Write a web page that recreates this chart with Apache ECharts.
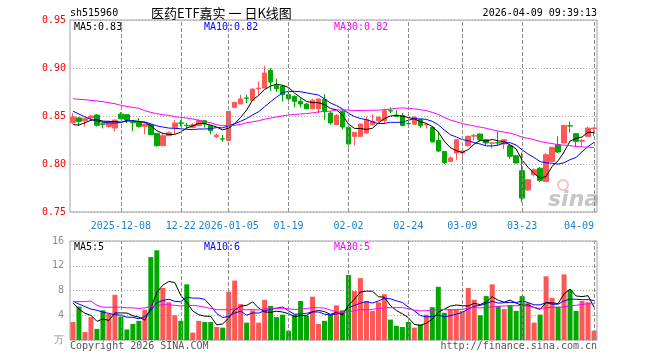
<!DOCTYPE html>
<html><head><meta charset="utf-8">
<script src="https://cdn.jsdelivr.net/npm/echarts@6/dist/echarts.min.js"></script>
<style>html,body{margin:0;padding:0;background:#fff}#c{width:660px;height:360px}</style>
</head><body><div id="c"></div>
<script>
// ---- data ----
const dates = [
'2025-11-26','2025-11-27','2025-11-28',
'2025-12-01','2025-12-02','2025-12-03','2025-12-04','2025-12-05',
'2025-12-08','2025-12-09','2025-12-10','2025-12-11','2025-12-12',
'2025-12-15','2025-12-16','2025-12-17','2025-12-18','2025-12-19',
'2025-12-22','2025-12-23','2025-12-24','2025-12-25','2025-12-26',
'2025-12-29','2025-12-30','2025-12-31',
'2026-01-05','2026-01-06','2026-01-07','2026-01-08','2026-01-09',
'2026-01-12','2026-01-13','2026-01-14','2026-01-15','2026-01-16',
'2026-01-19','2026-01-20','2026-01-21','2026-01-22','2026-01-23',
'2026-01-26','2026-01-27','2026-01-28','2026-01-29','2026-01-30',
'2026-02-02','2026-02-03','2026-02-04','2026-02-05','2026-02-06',
'2026-02-09','2026-02-10','2026-02-11','2026-02-12','2026-02-13',
'2026-02-24','2026-02-25','2026-02-26','2026-02-27',
'2026-03-02','2026-03-03','2026-03-04','2026-03-05','2026-03-06',
'2026-03-09','2026-03-10','2026-03-11','2026-03-12','2026-03-13',
'2026-03-16','2026-03-17','2026-03-18','2026-03-19','2026-03-20',
'2026-03-23','2026-03-24','2026-03-25','2026-03-26','2026-03-27',
'2026-03-30','2026-03-31','2026-04-01','2026-04-02','2026-04-03',
'2026-04-07','2026-04-08','2026-04-09'];

const tickDates  = ['2025-12-08','2025-12-22','2026-01-05','2026-01-19','2026-02-02','2026-02-24','2026-03-09','2026-03-23','2026-04-09'];
const tickLabels = ['2025-12-08','12-22','2026-01-05','01-19','02-02','02-24','03-09','03-23','04-09'];

const opens = [.843,.848,.8451,.848,.851,.8418,.839,.8375,.852,.8513,
.8438,.8432,.8392,.8409,.8319,.8191,.8295,.8382,.8428,.8403,
.8382,.8399,.8451,.8399,.8284,.8262,.8246,.859,.8625,.8688,
.8663,.8784,.8791,.8975,.8816,.8809,.8722,.8705,.8653,.8625,
.8576,.8576,.867,.8531,.8409,.855,.8382,.8288,.8288,.8323,
.8409,.8451,.8451,.8556,.851,.8505,.8422,.8415,.8462,.8408,
.838,.8245,.813,.8027,.8115,.8115,.8191,.829,.8312,.8253,
.8217,.8222,.8208,.8191,.8086,.793,.773,.7888,.7955,.7819,
.8027,.8201,.8219,.8399,.8316,.8238,.8288,.837];
const closes = [.849,.8444,.8472,.850,.8403,.8414,.8433,.8458,.8472,.8458,
.843,.8392,.8416,.8305,.8191,.8295,.8326,.8427,.8425,.840,
.8409,.8451,.8417,.8347,.830,.826,.8548,.8642,.8677,.8685,
.8781,.879,.8948,.8854,.8784,.8722,.868,.8653,.8625,.8576,
.8663,.8677,.8548,.8427,.8507,.8385,.8208,.833,.8416,.8462,
.8444,.8486,.8555,.8552,.8496,.84,.8418,.849,.8398,.8412,
.823,.8135,.8015,.8063,.8253,.8135,.8288,.8298,.8253,.8219,
.822,.8218,.8253,.808,.801,.7645,.7836,.794,.7829,.8097,
.8173,.8125,.8402,.8396,.8236,.8245,.8375,.8375];
const lows = [.842,.840,.839,.845,.839,.837,.838,.834,.8465,.8425,
.834,.838,.831,.830,.818,.819,.8295,.831,.839,.837,
.837,.8395,.838,.831,.827,.823,.8236,.859,.8625,.8635,
.866,.872,.8791,.876,.875,.865,.865,.859,.859,.857,
.8576,.853,.846,.841,.8405,.836,.8173,.8194,.8288,.832,
.840,.8435,.842,.853,.849,.8395,.8395,.841,.8375,.837,
.8225,.8125,.800,.802,.8045,.804,.818,.8246,.8235,.819,
.816,.819,.8156,.805,.8005,.760,.772,.787,.781,.781,
.8025,.8115,.8215,.833,.8184,.818,.8288,.829];
const highs = [.853,.849,.848,.851,.852,.844,.845,.846,.854,.852,
.8445,.848,.842,.841,.832,.832,.834,.846,.846,.843,
.8425,.847,.846,.840,.832,.8305,.855,.8645,.872,.872,
.8785,.886,.9024,.900,.889,.8825,.875,.8715,.8687,.8635,
.868,.868,.873,.855,.852,.856,.840,.833,.842,.8496,
.8514,.8495,.8576,.859,.856,.853,.8445,.8495,.847,.8425,
.8395,.834,.8135,.808,.8255,.817,.8295,.8316,.832,.826,
.823,.834,.8255,.820,.8095,.812,.7845,.7955,.797,.8114,
.8175,.8288,.841,.8444,.832,.8262,.839,.8375];
// volume, in 万 (10k)
const volumes = [2.9,5.4,1.3,3.7,1.8,4.8,4.2,7.3,3.8,1.7,
2.6,3.1,4.9,13.4,14.5,8.4,6.1,4.0,3.1,9.0,
1.2,3.1,2.9,2.9,2.1,2.0,7.8,9.6,5.8,2.8,
4.8,2.8,6.5,5.5,3.7,4.1,1.5,4.1,6.3,3.9,
7.0,2.6,3.1,4.1,5.6,4.8,10.5,7.9,10.0,6.3,
4.7,6.1,7.4,3.3,2.3,2.1,2.9,2.0,2.5,4.1,
5.3,8.6,4.4,5.0,5.0,4.7,8.4,6.5,4.0,7.1,
9.0,5.5,5.0,5.6,4.7,7.1,6.0,2.8,4.1,10.3,
6.8,5.4,10.6,8.1,4.7,6.3,6.1,1.5];
// moving-average values at the left edge (need history before the window)
const ma5Head  = [0.8410,0.8405,0.8430,0.8455];
const ma10Head = [0.8550,0.8520,0.8490,0.8465,0.8448,0.8436,0.8428,0.8427,0.8433];
const ma30Head = [0.8680,0.8673,0.8670,0.8663,0.8656,0.8649,0.8638,0.8628,0.8611,0.8600,
0.8590,0.8580,0.8555,0.8538,0.8524,0.8514,0.8507,0.8493,0.8486,0.8479,
0.8469,0.8455,0.8441,0.8430,0.8409,0.8399,0.8399,0.8402,0.8413];
const vma5Head  = [6.0,5.0,4.3,4.0];
const vma10Head = [6.3,5.8,5.4,5.0,4.8,4.5,4.3,4.1,4.0];
const vma30Head = [6.2,6.2,6.2,6.3,5.6,5.3,5.3,5.3,5.3,5.2,5.2,5.1,5.2,5.4,5.6,5.7,5.7,5.6,5.5,5.6,
5.6,5.5,5.3,5.1,4.9,4.9,4.9,5.0,5.0];
const priceLegend = ['MA5:0.83','MA10:0.82','MA30:0.82'];
const volLegend = ['MA5:5','MA10:6','MA30:5'];
const priceTicks = {min:0.75, max:0.95, step:0.05};
const volTicks = {min:0, max:16, step:4};

// ---- build ----
function movingAvg(arr, n, head) {
  return arr.map((v, i) => {
    if (i < n - 1) return head[i];
    let s = 0; for (let k = i - n + 1; k <= i; k++) s += arr[k];
    return +(s / n).toFixed(5);
  });
}
const UP = '#ff5656', DOWN = '#00a800';
const MONO = '"DejaVu Sans Mono", "Liberation Mono", monospace';
const tickIdx = tickDates.map(d => dates.indexOf(d));
const labelOf = {}; tickDates.forEach((d, k) => labelOf[d] = tickLabels[k]);
const showIdx = (i) => tickIdx.indexOf(i) >= 0;

const kData = dates.map((d, i) => [opens[i], closes[i], lows[i], highs[i]]);
const volData = volumes.map((v, i) => ({value: v, itemStyle: {color: closes[i] >= opens[i] ? UP : DOWN}}));

// dashed vertical grid lines at the labelled dates (markLine on the main series of each grid)
const dashMarks = {
  silent: true, symbol: ['none', 'none'], animation: false,
  label: {show: false},
  lineStyle: {color: '#8c8c8c', width: 1, type: 'dashed'},
  data: tickIdx.map(i => ({xAxis: i}))
};
const maLine = (data, color, xi, yi) => ({
  type: 'line', xAxisIndex: xi, yAxisIndex: yi, data, showSymbol: false, symbol: 'none',
  lineStyle: {color, width: 1}, z: 4, silent: true, animation: false
});

const chart = echarts.init(document.getElementById('c'));
const txt = (text, x, y, fill, opts) => Object.assign({
  type: 'text', x, y, silent: true,
  style: Object.assign({text, fill, font: '10px ' + MONO, textVerticalAlign: 'middle'}, opts || {})
});
chart.setOption({
  animation: false,
  backgroundColor: '#fff',
  grid: [
    {left: 70, top: 20, width: 527, height: 192, show: true, borderColor: '#a0a0a0', borderWidth: 1, backgroundColor: 'transparent'},
    {left: 70, top: 241, width: 527, height: 99, show: true, borderColor: '#a0a0a0', borderWidth: 1, backgroundColor: 'transparent'}
  ],
  xAxis: [
    {type: 'category', gridIndex: 0, data: dates, boundaryGap: true,
     axisLine: {show: false},
     axisTick: {show: true, inside: true, alignWithLabel: true, length: 3, interval: showIdx, lineStyle: {color: '#a0a0a0'}},
     axisLabel: {show: true, interval: showIdx, formatter: v => labelOf[v] || '', color: '#1a80d0',
       fontFamily: MONO, fontSize: 10, margin: 9, alignMaxLabel: 'right'},
     splitLine: {show: false}},
    {type: 'category', gridIndex: 1, data: dates, boundaryGap: true,
     axisLine: {show: false}, axisTick: {show: false}, axisLabel: {show: false}, splitLine: {show: false}}
  ],
  yAxis: [
    {type: 'value', gridIndex: 0, min: priceTicks.min, max: priceTicks.max, interval: priceTicks.step,
     axisLine: {show: false}, axisTick: {show: false},
     axisLabel: {color: '#ff0000', fontFamily: MONO, fontSize: 10, margin: 4, formatter: v => v.toFixed(2)},
     splitLine: {show: true, lineStyle: {color: '#aaaaaa', type: [1, 2]}}},
    {type: 'value', gridIndex: 1, min: volTicks.min, max: volTicks.max, interval: volTicks.step,
     axisLine: {show: false}, axisTick: {show: false},
     axisLabel: {color: '#8c8c8c', fontFamily: MONO, fontSize: 10, margin: 6, formatter: v => v === 0 ? '万' : String(v)},
     splitLine: {show: true, lineStyle: {color: '#aaaaaa', type: [1, 2]}}}
  ],
  series: [
    {type: 'candlestick', xAxisIndex: 0, yAxisIndex: 0, data: kData, barWidth: 5, z: 3,
     itemStyle: {color: UP, color0: DOWN, borderColor: UP, borderColor0: DOWN, borderWidth: 1},
     markLine: dashMarks},
    maLine(movingAvg(closes, 5, ma5Head), '#000000', 0, 0),
    maLine(movingAvg(closes, 10, ma10Head), '#0000ff', 0, 0),
    maLine(movingAvg(closes, 30, ma30Head), '#ff00ff', 0, 0),
    {type: 'bar', xAxisIndex: 1, yAxisIndex: 1, data: volData, barWidth: 5, z: 3, markLine: dashMarks},
    maLine(movingAvg(volumes, 5, vma5Head), '#000000', 1, 1),
    maLine(movingAvg(volumes, 10, vma10Head), '#0000ff', 1, 1),
    maLine(movingAvg(volumes, 30, vma30Head), '#ff00ff', 1, 1)
  ],
  graphic: [
    txt('sh515960', 70, 13, '#000'),
    txt('医药ETF嘉实 一 日K线图', 151, 13, '#000', {font: '13px "Noto Sans CJK SC"'}),
    txt('2026-04-09 09:39:13', 597, 13, '#000', {textAlign: 'right'}),
    txt(priceLegend[0], 74, 27, '#000'),
    txt(priceLegend[1], 204, 27, '#0000ff'),
    txt(priceLegend[2], 334, 27, '#ff00ff'),
    txt(volLegend[0], 74, 247, '#000'),
    txt(volLegend[1], 204, 247, '#0000ff'),
    txt(volLegend[2], 334, 247, '#ff00ff'),
    txt('Copyright 2026 SINA.COM', 70, 346, '#555'),
    txt('http://finance.sina.com.cn', 597, 346, '#555', {textAlign: 'right'}),
    {type: 'circle', shape: {cx: 563, cy: 185, r: 5}, silent: true, z: 0,
     style: {fill: 'none', stroke: 'rgba(230,120,120,0.45)', lineWidth: 2}},
    txt('sina', 548, 200, 'rgba(150,150,150,0.55)', {font: 'italic bold 22px "DejaVu Sans"'})
  ]
});
</script></body></html>
